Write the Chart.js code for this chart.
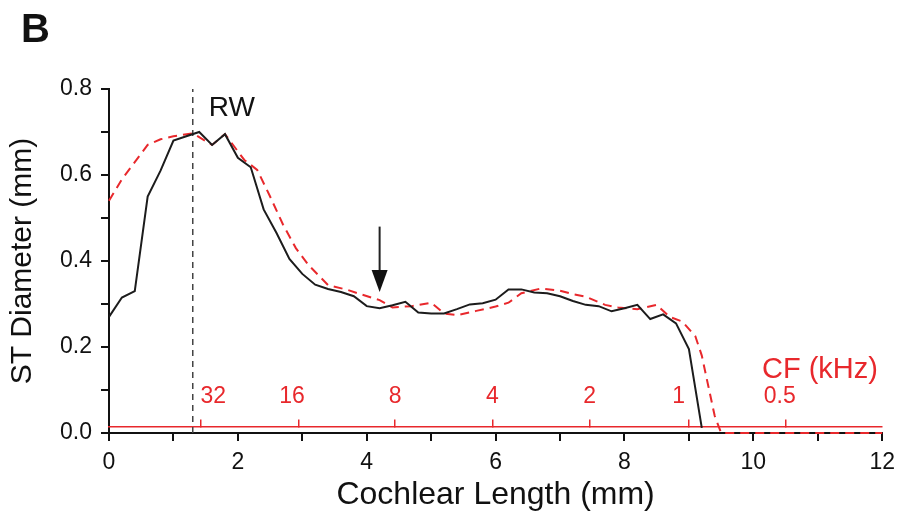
<!DOCTYPE html>
<html>
<head>
<meta charset="utf-8">
<script src="https://cdn.jsdelivr.net/npm/chart.js@4.4.0/dist/chart.umd.min.js"></script>
<style>
  html, body { margin: 0; padding: 0; background: #fff; }
  #wrap { width: 903px; height: 516px; position: relative; }
</style>
</head>
<body>
<div id="wrap"><canvas id="myChart"></canvas></div>
<script>
// Cochlear length (mm) vs ST diameter (mm)
const blackX = [0, 0.2, 0.4, 0.6, 0.8, 1.0, 1.2, 1.4, 1.6, 1.8, 2.0, 2.2, 2.4, 2.6, 2.8, 3.0, 3.2, 3.4, 3.6, 3.8,
  4.0, 4.2, 4.4, 4.6, 4.8, 5.0, 5.2, 5.4, 5.6, 5.8, 6.0, 6.2, 6.4, 6.6, 6.8, 7.0, 7.2, 7.4, 7.6, 7.8,
  8.0, 8.2, 8.4, 8.6, 8.8, 9.0, 9.2];
const blackY = [0.27, 0.315, 0.33, 0.55, 0.61, 0.68, 0.69, 0.70, 0.67, 0.695, 0.64, 0.618, 0.52, 0.465, 0.405, 0.37, 0.345, 0.335, 0.328, 0.318,
  0.295, 0.29, 0.297, 0.305, 0.28, 0.278, 0.278, 0.288, 0.299, 0.302, 0.31, 0.334, 0.334, 0.327, 0.325, 0.318, 0.307, 0.298, 0.295, 0.283,
  0.29, 0.298, 0.265, 0.276, 0.255, 0.195, 0.012];

const redX = [0, 0.2, 0.4, 0.6, 0.8, 1.0, 1.3, 1.6, 1.8, 2.1, 2.3, 2.5, 2.7, 2.9, 3.1, 3.4, 3.7, 3.9, 4.2, 4.4,
  4.7, 5.0, 5.2, 5.4, 5.7, 6.0, 6.2, 6.4, 6.7, 7.0, 7.2, 7.4, 7.7, 7.9, 8.2, 8.5, 8.7, 8.9, 9.1, 9.2,
  9.3, 9.4, 9.5, 12];
const redY = [0.54, 0.59, 0.63, 0.67, 0.683, 0.69, 0.697, 0.67, 0.695, 0.635, 0.612, 0.55, 0.485, 0.43, 0.39, 0.344, 0.333, 0.323, 0.309, 0.292,
  0.295, 0.303, 0.278, 0.274, 0.284, 0.294, 0.303, 0.325, 0.336, 0.331, 0.323, 0.317, 0.298, 0.292, 0.288, 0.298, 0.27, 0.259, 0.225, 0.18,
  0.11, 0.04, 0.0, 0.0];

// characteristic frequency axis (kHz) placed along the cochlea
const cfPos = [1.42, 2.94, 4.44, 5.95, 7.46, 8.99, 10.51];
const cfLabels = ['32', '16', '8', '4', '2', '1', '0.5'];
const cfLevel = 0.015;

const rwPos = 1.3;      // round window
const arrowPos = 4.2;
const arrowTop = 0.48;
const arrowTip = 0.328;

const RED = 'rgb(232,40,44)';
const FONT = "'Liberation Sans', Arial, sans-serif";

const pts = (xs, ys) => xs.map((x, i) => ({ x: x, y: ys[i] }));

// labels in the figure sit a little off their ticks (32 is pushed clear of the RW line)
const cfText = l => ({ '32': '    32', '16': '16  ', '1': '1   ', '0.5': '0.5  ' }[l] || l);

// text + arrow that Chart.js has no element for
const extras = {
  id: 'extras',
  afterDatasetsDraw(chart) {
    const c = chart.ctx;
    const xs = chart.scales.x, ys = chart.scales.y;
    c.save();
    // arrow
    const ax = xs.getPixelForValue(arrowPos);
    const at = ys.getPixelForValue(arrowTop);
    const tip = ys.getPixelForValue(arrowTip);
    c.strokeStyle = '#222';
    c.lineWidth = 2;
    c.beginPath();
    c.moveTo(ax, at);
    c.lineTo(ax, tip - 18);
    c.stroke();
    c.fillStyle = '#111';
    c.beginPath();
    c.moveTo(ax - 8, tip - 22);
    c.lineTo(ax + 8, tip - 22);
    c.lineTo(ax, tip);
    c.closePath();
    c.fill();

    c.textBaseline = 'alphabetic';
    c.textAlign = 'left';
    c.fillStyle = '#111';
    c.font = 'bold 40px ' + FONT;
    c.fillText('B', 21, 42);
    c.font = '28px ' + FONT;
    c.fillText('RW', xs.getPixelForValue(rwPos) + 16, 116);
    c.fillStyle = RED;
    c.font = '29px ' + FONT;
    c.fillText('CF (kHz)', 762, 378);
    c.restore();
  }
};

new Chart(document.getElementById('myChart'), {
  type: 'scatter',
  data: {
    datasets: [{
      data: pts(blackX, blackY),
      showLine: true,
      borderColor: '#1c1c1c',
      borderWidth: 2,
      pointRadius: 0
    }, {
      data: pts(redX, redY),
      showLine: true,
      borderColor: RED,
      borderWidth: 2,
      borderDash: [9, 6],
      pointRadius: 0,
      clip: false
    }, {
      data: [{ x: rwPos, y: 0 }, { x: rwPos, y: 0.8 }],
      showLine: true,
      borderColor: '#444',
      borderWidth: 1.5,
      borderDash: [6, 5],
      pointRadius: 0
    }]
  },
  options: {
    responsive: true,
    maintainAspectRatio: false,
    animation: false,
    layout: { padding: { left: 0, top: 89, right: 18, bottom: 0 } },
    plugins: { legend: { display: false }, tooltip: { enabled: false } },
    scales: {
      x: {
        type: 'linear',
        min: 0, max: 12,
        afterFit: s => { s.height = 83; },
        ticks: {
          stepSize: 1, autoSkip: false, maxRotation: 0,
          padding: 8, color: '#111',
          font: { family: FONT, size: 23 },
          callback: v => (Math.round(v) % 2 === 0 ? String(Math.round(v)) : '')
        },
        grid: { drawOnChartArea: false, tickLength: 8, color: '#111', lineWidth: 2 },
        border: { color: '#111', width: 2 },
        title: {
          display: true, text: 'Cochlear Length (mm)', color: '#111',
          font: { family: FONT, size: 32 }, padding: { top: 0, bottom: 2 }
        }
      },
      y: {
        min: 0, max: 0.8,
        afterFit: s => { s.width = 109; },
        ticks: {
          stepSize: 0.1, autoSkip: false,
          padding: 9, color: '#111',
          font: { family: FONT, size: 23 },
          callback: v => (Math.round(v * 10) % 2 === 0 ? v.toFixed(1) : '')
        },
        grid: { drawOnChartArea: false, tickLength: 8, color: '#111', lineWidth: 2 },
        border: { color: '#111', width: 2 },
        title: {
          display: true, text: 'ST Diameter (mm)', color: '#111',
          font: { family: FONT, size: 30 }, padding: { top: 5, bottom: 0 }
        }
      },
      x2: {
        axis: 'x',
        type: 'linear',
        min: 0, max: 12,
        position: { y: cfLevel },
        afterBuildTicks: axis => { axis.ticks = cfPos.map(v => ({ value: v })); },
        ticks: {
          autoSkip: false, maxRotation: 0,
          padding: -36, color: RED,
          font: { family: FONT, size: 23 },
          callback: (v, i) => cfText(cfLabels[i])
        },
        grid: { drawOnChartArea: false, tickLength: -8, color: RED, lineWidth: 1.5 },
        border: { color: RED, width: 1.5 }
      }
    }
  },
  plugins: [extras]
});
</script>
</body>
</html>
